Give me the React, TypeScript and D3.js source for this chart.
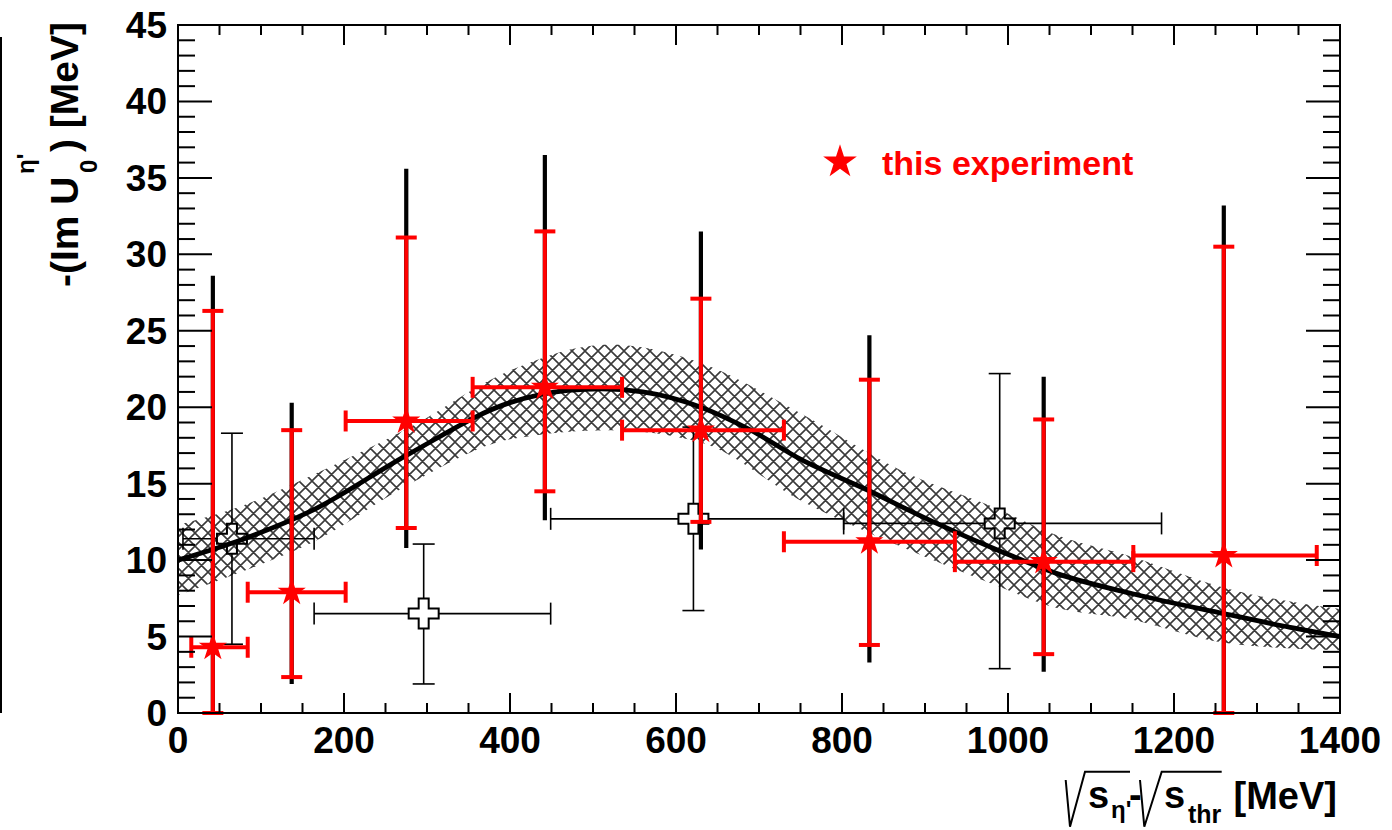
import React from "react";
import * as d3 from "d3";

// ---------- data ----------
// this experiment (red stars)
const expX = [42, 137, 275, 442, 630, 833, 1043, 1260];
const expY = [4.3, 7.9, 19.1, 21.3, 18.5, 11.2, 9.9, 10.3];
const expXLo = [16, 84, 202, 355, 535, 730, 936, 1151];
const expXHi = [84, 202, 355, 535, 730, 936, 1151, 1372];
const expStatLo = [0, 2.35, 12.1, 14.5, 12.5, 4.45, 3.85, 0];
const expStatHi = [26.3, 18.5, 31.1, 31.5, 27.1, 21.8, 19.2, 30.5];
const expTotLo = [0, 1.9, 10.8, 12.6, 10.7, 3.3, 2.7, 0];
const expTotHi = [28.6, 20.3, 35.6, 36.5, 31.5, 24.7, 22.0, 33.2];

// other data (open crosses)
const refX = [65, 296, 621, 990];
const refY = [11.4, 6.5, 12.7, 12.4];
const refXLo = [6, 164, 449, 802];
const refXHi = [164, 449, 802, 1185];
const refYLo = [4.5, 1.9, 6.7, 2.9];
const refYHi = [18.3, 11.05, 18.7, 22.2];

// model curve
const curveX = [0, 80, 160, 280, 400, 470, 510, 560, 630, 690, 750, 830, 910, 990, 1060, 1150, 1260, 1340, 1400];
const curveY = [10.0, 11.4, 13.2, 17.0, 20.3, 21.1, 21.2, 21.0, 20.0, 18.5, 16.6, 14.6, 12.5, 10.6, 9.1, 7.8, 6.5, 5.6, 5.0];

// uncertainty band
const bandX = [0, 80, 160, 280, 400, 520, 630, 750, 870, 990, 1050, 1150, 1260, 1400];
const bandUpper = [12.3, 13.6, 15.5, 18.7, 22.4, 24.1, 22.9, 19.6, 15.9, 13.3, 11.8, 10.2, 8.2, 6.8];
const bandLower = [7.7, 9.3, 11.1, 15.0, 17.9, 18.5, 17.7, 13.9, 10.9, 8.25, 7.0, 6.1, 4.6, 4.1];

const xTickLabels = [0, 200, 400, 600, 800, 1000, 1200, 1400];
const yTickLabels = [0, 5, 10, 15, 20, 25, 30, 35, 40, 45];
const legendLabel = "this experiment";

// ---------- layout ----------
const W = 1392;
const H = 830;
const L = 178, R = 1340, T = 25, B = 713;
const FONT = "'Liberation Sans', Arial, Helvetica, sans-serif";
const RED = "#ff0000";
const HP = 13; // hatch period

const KA = 0.8908130915292852;
const starPath = (r: number) => d3.symbol(d3.symbolStar, (r * r) / KA)() as string;

export default function App() {
  const x = d3.scaleLinear().domain([0, 1400]).range([L, R]);
  const y = d3.scaleLinear().domain([0, 45]).range([B, T]);

  const xMinor = d3.range(0, 1401, 50);
  const yMinor = d3.range(0, 46, 1);

  const band = d3
    .area<number>()
    .x((_, i) => x(bandX[i]))
    .y0((_, i) => y(bandLower[i]))
    .y1((_, i) => y(bandUpper[i]))
    .curve(d3.curveMonotoneX)(bandX);

  const line = d3
    .line<number>()
    .x((_, i) => x(curveX[i]))
    .y((_, i) => y(curveY[i]))
    .curve(d3.curveMonotoneX)(curveX);

  const s = 15, a = 5;
  const crossPath = `M${-a},${-s}H${a}V${-a}H${s}V${a}H${a}V${s}H${-a}V${a}H${-s}V${-a}H${-a}Z`;

  return (
    <svg
      width={W}
      height={H}
      style={{ position: "absolute", left: 0, top: 0, display: "block", background: "#fff" }}
      fontFamily={FONT}
      fontWeight="bold"
    >
      <defs>
        <pattern id="hatch" patternUnits="userSpaceOnUse" width={HP} height={HP}>
          <path
            d={`M0,0L${HP},${HP}M${HP},0L0,${HP}M-1,1L1,-1M${HP - 1},${HP + 1}L${HP + 1},${HP - 1}M-1,${HP - 1}L1,${HP + 1}M${HP - 1},-1L${HP + 1},1`}
            stroke="#3a3a3a"
            strokeWidth={1.6}
          />
        </pattern>
        <clipPath id="plotclip">
          <rect x={L} y={T} width={R - L} height={B - T} />
        </clipPath>
      </defs>
      <rect width={W} height={H} fill="#fff" />

      {/* stray left edge line */}
      <line x1={1} x2={1} y1={37} y2={713} stroke="#000" strokeWidth={2} />

      {/* band */}
      <path d={band!} fill="url(#hatch)" stroke="none" clipPath="url(#plotclip)" />

      {/* open crosses */}
      {refX.map((v, i) => {
        const cx = x(v), cy = y(refY[i]);
        return (
          <g key={"r" + i} stroke="#000" strokeWidth={1.6} fill="none">
            <line x1={x(refXLo[i])} x2={cx - s} y1={cy} y2={cy} />
            <line x1={cx + s} x2={x(refXHi[i])} y1={cy} y2={cy} />
            <line x1={x(refXLo[i])} x2={x(refXLo[i])} y1={cy - 11} y2={cy + 11} />
            <line x1={x(refXHi[i])} x2={x(refXHi[i])} y1={cy - 11} y2={cy + 11} />
            <line x1={cx} x2={cx} y1={cy - s} y2={y(refYHi[i])} />
            <line x1={cx} x2={cx} y1={cy + s} y2={y(refYLo[i])} />
            <line x1={cx - 11} x2={cx + 11} y1={y(refYHi[i])} y2={y(refYHi[i])} />
            <line x1={cx - 11} x2={cx + 11} y1={y(refYLo[i])} y2={y(refYLo[i])} />
            <path d={crossPath} transform={`translate(${cx},${cy})`} strokeWidth={2} />
          </g>
        );
      })}

      {/* curve */}
      <path d={line!} fill="none" stroke="#000" strokeWidth={4.8} clipPath="url(#plotclip)" />

      {/* this experiment */}
      {expX.map((v, i) => {
        const cx = x(v), cy = y(expY[i]);
        return (
          <g key={"e" + i}>
            <line x1={cx} x2={cx} y1={y(expTotLo[i])} y2={y(expTotHi[i])} stroke="#000" strokeWidth={4.2} />
            <g stroke={RED} strokeWidth={4}>
              <line x1={cx} x2={cx} y1={y(expStatLo[i])} y2={y(expStatHi[i])} />
              <line x1={cx - 10.5} x2={cx + 10.5} y1={y(expStatLo[i])} y2={y(expStatLo[i])} />
              <line x1={cx - 10.5} x2={cx + 10.5} y1={y(expStatHi[i])} y2={y(expStatHi[i])} />
              <line x1={x(expXLo[i])} x2={x(expXHi[i])} y1={cy} y2={cy} />
              <line x1={x(expXLo[i])} x2={x(expXLo[i])} y1={cy - 10.5} y2={cy + 10.5} />
              <line x1={x(expXHi[i])} x2={x(expXHi[i])} y1={cy - 10.5} y2={cy + 10.5} />
            </g>
            <path d={starPath(14.8)} transform={`translate(${cx},${cy})`} fill={RED} />
          </g>
        );
      })}

      {/* frame */}
      <rect x={L} y={T} width={R - L} height={B - T} fill="none" stroke="#000" strokeWidth={2} />

      {/* ticks */}
      <g stroke="#000" strokeWidth={2}>
        {xMinor.map((v) => {
          const len = v % 200 === 0 ? 20 : 10;
          return (
            <g key={"xt" + v}>
              <line x1={x(v)} x2={x(v)} y1={B} y2={B - len} />
              <line x1={x(v)} x2={x(v)} y1={T} y2={T + len} />
            </g>
          );
        })}
        {yMinor.map((v) => {
          const len = v % 5 === 0 ? 34 : 17;
          return (
            <g key={"yt" + v}>
              <line x1={L} x2={L + len} y1={y(v)} y2={y(v)} />
              <line x1={R} x2={R - len} y1={y(v)} y2={y(v)} />
            </g>
          );
        })}
      </g>

      {/* tick labels */}
      <g fontSize={37} fill="#000">
        {xTickLabels.map((v) => (
          <text key={"xl" + v} x={x(v)} y={753} textAnchor="middle">
            {v}
          </text>
        ))}
        {yTickLabels.map((v) => (
          <text key={"yl" + v} x={167} y={y(v) + 13} textAnchor="end">
            {v}
          </text>
        ))}
      </g>

      {/* y title */}
      <g transform="translate(78,287) rotate(-90)" fill="#000">
        <text x={0} y={0} fontSize={39}>-(Im U</text>
        <text x={114} y={19} fontSize={24}>0</text>
        <text x={113} y={-44} fontSize={24}>η'</text>
        <text x={135} y={0} fontSize={39} style={{ whiteSpace: "pre" }}>) [MeV]</text>
      </g>

      {/* x title */}
      <g fill="#000">
        <path d="M1065.7,780L1070,826.7L1085,771.7L1130,771.7M1140,780L1144.3,826.7L1161.7,771.7L1221.7,771.7" fill="none" stroke="#000" strokeWidth={2} />
        <text x={1088} y={808} fontSize={38}>s</text>
        <text x={1111} y={818} fontSize={24}>η'</text>
        <text x={1129} y={808} fontSize={38}>-</text>
        <text x={1164} y={808} fontSize={38}>s</text>
        <text x={1188} y={823} fontSize={25}>thr</text>
        <text x={1337} y={809} fontSize={38} textAnchor="end">[MeV]</text>
      </g>

      {/* legend */}
      <path d={starPath(17.7)} transform="translate(840,162)" fill={RED} />
      <text x={882} y={175} fontSize={34} fill={RED}>
        {legendLabel}
      </text>
    </svg>
  );
}
